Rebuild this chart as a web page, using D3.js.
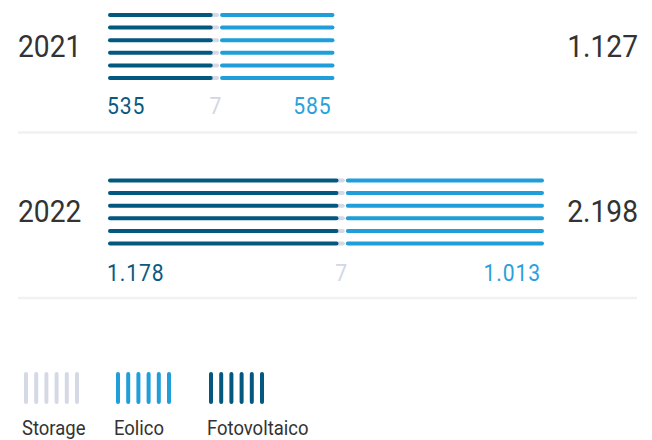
<!DOCTYPE html>
<html>
<head>
<meta charset="utf-8">
<script src="https://cdn.jsdelivr.net/npm/d3@7"></script>
<style>
  html, body { margin: 0; padding: 0; background: #ffffff; }
  svg { display: block; }
  text { font-family: Roboto, "Noto Sans", sans-serif; }
</style>
</head>
<body>
<svg id="chart" width="652" height="440"></svg>
<script>
// ---- data ----
const years = ["2021", "2022"];
const fotovoltaico = [535, 1178];
const storage = [7, 7];
const eolico = [585, 1013];
const legendLabels = ["Storage", "Eolico", "Fotovoltaico"];

// ---- style ----
const colors = { fotovoltaico: "#03587f", storage: "#d5d9e5", eolico: "#1f9ed9" };
const labelColors = { fotovoltaico: "#0a5a80", storage: "#d2d7e5", eolico: "#2aa1db" };
const legendColors = [colors.storage, colors.eolico, colors.fotovoltaico];
const cond = 0.88; // emulate condensed face

const it = d3.formatLocale({ decimal: ",", thousands: ".", grouping: [3], currency: ["€", ""] });
const fmt = it.format(",");

const svg = d3.select("#chart");
const totals = years.map((y, i) => fotovoltaico[i] + storage[i] + eolico[i]);

const rowY = d3.scaleBand().domain(years).range([0, 331]).paddingInner(0).paddingOuter(0);
const lineY = d3.scalePoint().domain(d3.range(6)).range([15, 78]);
const xs = d3.scaleLinear().domain([0, d3.max(totals)]).range([0, 430]);
const L = 108;
const SW = 4;

function txt(g, x, y, s, size, color, anchor, ls, weight) {
  const t = g.append("g").attr("transform", `translate(${x},${y}) scale(${cond},1)`)
    .append("text")
    .attr("font-size", size)
    .attr("font-weight", weight || 400)
    .attr("fill", color)
    .attr("text-anchor", anchor || "start")
    .text(s);
  if (ls) t.attr("letter-spacing", ls);
  return t;
}

function seg(g, a, b, y, color) {
  g.append("line")
    .attr("x1", a + SW / 2).attr("x2", Math.max(a + SW / 2, b - SW / 2))
    .attr("y1", y).attr("y2", y)
    .attr("stroke", color).attr("stroke-width", SW).attr("stroke-linecap", "round");
}

years.forEach((yr, i) => {
  const g = svg.append("g").attr("transform", `translate(0,${rowY(yr)})`);
  const dEnd = L + xs(fotovoltaico[i]);
  const gStart = dEnd - 3;
  const gEnd = dEnd + xs(storage[i]) + 5;
  const lStart = dEnd + xs(storage[i]) + 6;
  const lEnd = lStart + xs(eolico[i]);

  d3.range(6).forEach(k => {
    const y = lineY(k);
    seg(g, gStart, gEnd, y, colors.storage);
    seg(g, lStart, lEnd, y, colors.eolico);
    seg(g, L, dEnd, y, colors.fotovoltaico);
  });

  // year & total
  txt(g, 18, 56.5, yr, 32, "#333333", "start");
  txt(g, 638, 56.5, fmt(totals[i]), 32, "#333333", "end");

  // value labels
  const vy = 113.5 + i * 2;
  txt(g, L - 1, vy, fmt(fotovoltaico[i]), 24, labelColors.fotovoltaico, "start", 1);
  txt(g, (gStart + gEnd) / 2 + 1, vy, fmt(storage[i]), 24, labelColors.storage, "middle");
  txt(g, lEnd - 3, vy, fmt(eolico[i]), 24, labelColors.eolico, "end", 1);

  // separator
  g.append("line")
    .attr("x1", 18).attr("x2", 637)
    .attr("y1", 132.5).attr("y2", 132.5)
    .attr("stroke", "#f1f1f1").attr("stroke-width", 2.5);
});

// legend
const legX = d3.scaleOrdinal().domain(legendLabels).range([22, 114, 207]);
const swX = d3.scalePoint().domain(d3.range(6)).range([4, 55]);
legendLabels.forEach((lab, j) => {
  const g = svg.append("g").attr("transform", `translate(${legX(lab)},0)`);
  d3.range(6).forEach(k => {
    g.append("line")
      .attr("x1", swX(k)).attr("x2", swX(k))
      .attr("y1", 374).attr("y2", 402)
      .attr("stroke", legendColors[j]).attr("stroke-width", SW).attr("stroke-linecap", "round");
  });
  txt(g, 0, 435, lab, 21, "#333333", "start");
});
</script>
</body>
</html>
